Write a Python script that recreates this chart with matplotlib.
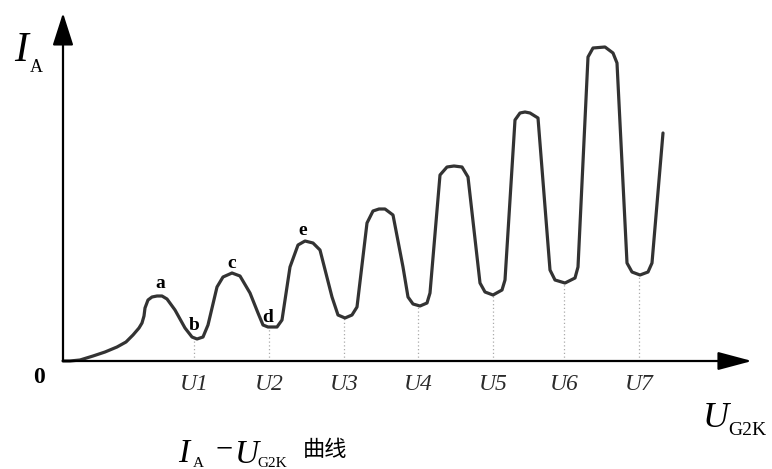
import numpy as np
import matplotlib
matplotlib.use("Agg")
import matplotlib.pyplot as plt

# I_A - U_G2K curve (Franck-Hertz), arbitrary units
u_g2k = [0.0, 0.7, 1.7, 3.0, 4.2, 5.4, 6.3, 7.0, 7.6, 7.9, 8.1, 8.2, 8.5, 8.9, 9.4,
         9.9, 10.4, 11.2, 12.2, 12.9, 13.4, 14.0, 14.5, 15.4, 16.0, 16.9, 17.7,
         18.7, 19.5, 20.0, 20.5, 21.4, 21.9, 22.7, 23.5, 24.2, 25.0, 25.7, 26.9,
         27.5, 28.2, 28.9, 29.4, 30.4, 31.0, 31.6, 32.2, 33.0, 34.0, 34.5, 35.0,
         35.7, 36.4, 36.7, 37.7, 38.4, 39.1, 39.9, 40.5, 41.7, 42.2, 43.0, 43.9,
         44.2, 45.2, 45.7, 46.2, 46.7, 47.5, 48.7, 49.2, 50.2, 51.2, 51.5, 52.5,
         53.0, 54.2, 55.0, 55.4, 56.4, 56.9, 57.7, 58.5, 58.9, 60.0]
i_a = [0.0, 0.0, 0.1, 0.5, 0.9, 1.4, 1.9, 2.6, 3.3, 3.8, 4.5, 5.3, 6.1, 6.4, 6.5,
       6.5, 6.2, 5.1, 3.3, 2.4, 2.2, 2.4, 3.6, 7.4, 8.4, 8.8, 8.5,
       6.8, 4.8, 3.6, 3.4, 3.4, 4.1, 9.4, 11.6, 12.0, 11.8, 11.1, 6.4,
       4.6, 4.3, 4.6, 5.4, 13.8, 15.0, 15.2, 15.2, 14.6, 9.4, 6.4, 5.7,
       5.5, 5.8, 6.8, 18.6, 19.4, 19.5, 19.4, 18.4, 7.8, 6.9, 6.6, 7.1,
       8.1, 24.1, 24.8, 24.9, 24.8, 24.3, 9.1, 8.1, 7.8, 8.3, 9.4, 30.4,
       31.3, 31.4, 30.8, 29.8, 9.8, 8.9, 8.6, 8.9, 9.8, 22.8]

# valley positions U1..U7
u_valley = [13.1, 20.6, 28.1, 35.5, 43.0, 50.1, 57.6]
u_labels = ["U1", "U2", "U3", "U4", "U5", "U6", "U7"]

# marked points a..e
pt_names = ["a", "b", "c", "d", "e"]
pt_x = [9.7, 13.1, 16.9, 20.5, 24.0]
pt_y = [7.3, 3.1, 9.3, 3.9, 12.6]

serif = "Liberation Serif"

fig = plt.figure(figsize=(7.72, 4.69), dpi=100)
ax = fig.add_axes([0, 0, 1, 1])
ax.set_xlim(-6.3, 70.9)
ax.set_ylim(-10.8, 36.1)
ax.axis("off")

# axes with arrows
arrow = dict(arrowstyle="-|>,head_length=1.05,head_width=0.28", mutation_scale=20,
             lw=1.6, color="black", shrinkA=0, shrinkB=0)
ax.annotate("", xy=(68.9, 0), xytext=(0, 0), arrowprops=arrow)
ax.annotate("", xy=(0, 34.8), xytext=(0, 0),
            arrowprops=dict(arrow, arrowstyle="-|>,head_length=1.0,head_width=0.32"))

# dotted drop lines from valleys
for u, lab in zip(u_valley, u_labels):
    top = np.interp(u, u_g2k, i_a)
    ax.plot([u, u], [0, top], color="#aaaaaa", lw=0.9, ls=(0, (1, 2)))
    ax.text(u, -2.9, lab, fontsize=17, family=serif, style="italic",
            color="#2a2a2a", ha="center", va="baseline")

# the curve
ax.plot(u_g2k, i_a, color="#333333", lw=2.3, solid_joinstyle="round",
        solid_capstyle="round")

for n, x, y in zip(pt_names, pt_x, pt_y):
    ax.text(x, y, n, fontsize=14, family=serif, weight="bold",
            ha="center", va="baseline")

ax.text(-2.4, -1.6, "0", fontsize=17, family=serif, weight="bold",
        ha="center", va="center")

# axis names
ax.text(-4.9, 30.0, "I", fontsize=30, family=serif, style="italic",
        ha="left", va="baseline")
ax.text(-3.3, 28.9, "A", fontsize=13, family=serif, ha="left", va="baseline")
ax.text(64.0, -6.6, "U", fontsize=26, family=serif, style="italic",
        ha="left", va="baseline")
ax.text(66.5, -7.4, "G2K", fontsize=14, family=serif, ha="left", va="baseline")

# caption
ax.text(11.5, -10.1, "I", fontsize=24, family=serif, style="italic",
        ha="left", va="baseline")
ax.text(13.0, -10.55, "A", fontsize=11, family=serif, ha="left", va="baseline")
ax.text(16.1, -8.9, "\u2212", fontsize=22, family=serif, ha="center", va="center")
ax.text(17.2, -10.2, "U", fontsize=24, family=serif, style="italic",
        ha="left", va="baseline")
ax.text(19.4, -10.55, "G2K", fontsize=11, family=serif, ha="left", va="baseline")
ax.text(24.0, -9.5, "曲线", fontsize=16, family=["Noto Sans CJK SC", "DejaVu Sans"],
        ha="left", va="baseline")

fig.savefig("out.png", dpi=100)
